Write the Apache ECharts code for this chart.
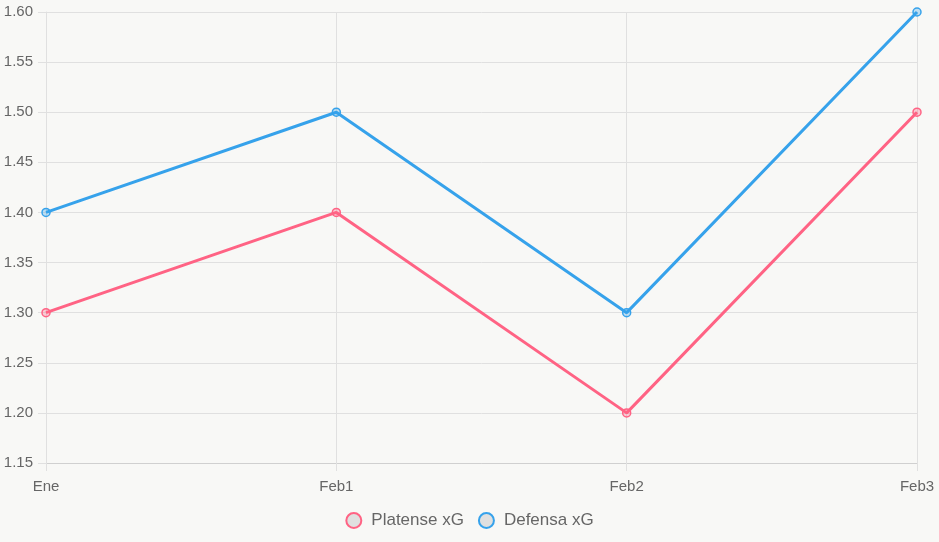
<!DOCTYPE html>
<html>
<head>
<meta charset="utf-8">
<script src="https://cdn.jsdelivr.net/npm/echarts@6/dist/echarts.min.js"></script>
<style>
  html, body { margin: 0; padding: 0; background: #f8f8f6; }
  #chart { width: 939px; height: 542px; }
</style>
</head>
<body>
<div id="chart"></div>
<script>
const categories = ["Ene", "Feb1", "Feb2", "Feb3"];
const platenseXG = [1.3, 1.4, 1.2, 1.5];
const defensaXG = [1.4, 1.5, 1.3, 1.6];

const pink = "#ff6384";
const blue = "#36a2eb";

let myChart = echarts.init(document.getElementById("chart"));
let option = {
  backgroundColor: "#f8f8f6",
  textStyle: { fontFamily: "Liberation Sans, Arial, sans-serif" },
  animation: false,
  grid: { left: 46, right: 22, top: 12, bottom: 79 },
  legend: {
    top: 507,
    left: "center",
    icon: "circle",
    itemWidth: 15,
    itemHeight: 15,
    itemGap: 14,
    textStyle: { color: "#666", fontSize: 17, padding: [0, 0, 0, 5] },
    data: [
      { name: "Platense xG", itemStyle: { color: "#e0e0e0", borderColor: pink, borderWidth: 2 } },
      { name: "Defensa xG", itemStyle: { color: "#e0e0e0", borderColor: blue, borderWidth: 2 } }
    ]
  },
  xAxis: {
    type: "category",
    data: categories,
    boundaryGap: false,
    axisLine: { lineStyle: { color: "#d0d0d0" } },
    axisTick: { show: true, length: 8, lineStyle: { color: "#e0e0e0" } },
    axisLabel: { color: "#666", fontSize: 15, margin: 16 },
    splitLine: { show: true, lineStyle: { color: "#e0e0e0" } }
  },
  yAxis: {
    type: "value",
    min: 1.15,
    max: 1.6,
    interval: 0.05,
    axisLine: { show: true, lineStyle: { color: "#e0e0e0" } },
    axisTick: { show: true, length: 8, lineStyle: { color: "#e0e0e0" } },
    axisLabel: {
      color: "#666",
      fontSize: 15,
      margin: 13,
      formatter: function (v) { return v.toFixed(2); }
    },
    splitLine: { show: true, lineStyle: { color: "#e0e0e0" } }
  },
  series: [
    {
      name: "Platense xG",
      type: "line",
      data: platenseXG,
      symbol: "circle",
      symbolSize: 8,
      lineStyle: { color: pink, width: 3 },
      itemStyle: { color: "rgba(255,99,132,0.3)", borderColor: pink, borderWidth: 1.5 }
    },
    {
      name: "Defensa xG",
      type: "line",
      data: defensaXG,
      symbol: "circle",
      symbolSize: 8,
      lineStyle: { color: blue, width: 3 },
      itemStyle: { color: "rgba(54,162,235,0.3)", borderColor: blue, borderWidth: 1.5 }
    }
  ]
};
myChart.setOption(option);
window.onresize = function () {
  myChart.resize();
};
</script>
</body>
</html>
